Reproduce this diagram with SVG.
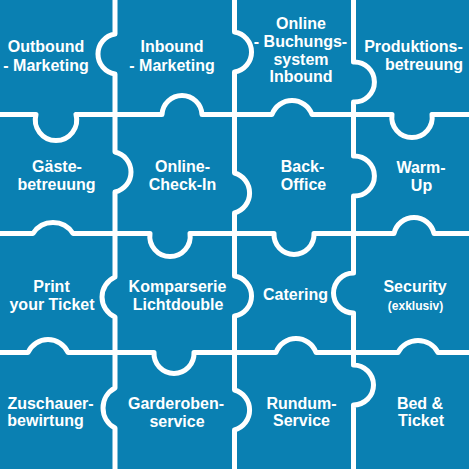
<svg xmlns="http://www.w3.org/2000/svg" width="469" height="469" viewBox="0 0 469 469">
<style>
.bg{fill:#0a80b2}
.cut{fill:none;stroke:#fff;stroke-width:5;stroke-linejoin:round}
text{font-family:"Liberation Sans",Arial,sans-serif;font-weight:bold;font-size:16px;fill:#fff;text-anchor:middle}
.sm{font-size:12px}
</style>
<rect class="bg" x="0" y="0" width="469" height="469"/>
<g id="connectors">
<path class="cut" d="M115 0 V34 A20.26 20.26 0 0 0 115 74 V152 A20.5 20.5 0 0 1 115 192 V277 A21.9 21.9 0 0 0 115 317 V388 A22.7 22.7 0 0 0 115 428 V469"/>
<path class="cut" d="M234.5 0 V32 A20.26 20.26 0 0 1 234.5 72 V173 A20.8 20.8 0 0 1 234.5 213 V276 A20.26 20.26 0 0 1 234.5 316 V390 A20.8 20.8 0 0 1 234.5 430 V469"/>
<path class="cut" d="M353.5 0 V62 A20.02 20.02 0 1 1 353.5 102 V156 A20.02 20.02 0 1 1 353.5 196 V273 A20 20 0 1 0 353.5 313 V365 A20 20 0 1 1 353.5 405 V469"/>
<path class="cut" d="M0 114.5 H36 A20.7 20.7 0 1 0 76 114.5 H162 A20.03 20.03 0 0 1 202 114.5 H272 A21.3 21.3 0 0 1 312 114.5 H392 A20.2 20.2 0 1 0 432 114.5 H469"/>
<path class="cut" d="M0 233.5 H33 A23.7 23.7 0 0 1 73 233.5 H150 A20.2 20.2 0 1 0 190 233.5 H274 A20.02 20.02 0 1 0 314 233.5 H394 A20.5 20.5 0 0 1 434 233.5 H469"/>
<path class="cut" d="M0 352.5 H28 A21.9 21.9 0 0 1 68 352.5 H154 A20.02 20.02 0 1 0 194 352.5 H276 A21.3 21.3 0 0 1 316 352.5 H398 A22.7 22.7 0 0 1 438 352.5 H469"/>
</g>
<g id="outbound"><text x="46" y="52">Outbound</text><text x="46" y="71">- Marketing</text></g>
<g id="inbound"><text x="172" y="52">Inbound</text><text x="172" y="71">- Marketing</text></g>
<g id="buchungssystem"><text x="301" y="29">Online</text><text x="300.5" y="47">- Buchungs-</text><text x="301" y="64.5">system</text><text x="301" y="82">Inbound</text></g>
<g id="produktion"><text x="413.5" y="52">Produktions-</text><text x="424" y="70">betreuung</text></g>
<g id="gaeste"><text x="57" y="172">Gäste-</text><text x="56.5" y="190">betreuung</text></g>
<g id="checkin"><text x="182.5" y="172">Online-</text><text x="182.5" y="190">Check-In</text></g>
<g id="backoffice"><text x="302.5" y="172">Back-</text><text x="303.5" y="190">Office</text></g>
<g id="warmup"><text x="421" y="173">Warm-</text><text x="421.5" y="191">Up</text></g>
<g id="print"><text x="51.5" y="292">Print</text><text x="52" y="310">your Ticket</text></g>
<g id="komparserie"><text x="177.5" y="292">Komparserie</text><text x="178" y="310">Lichtdouble</text></g>
<g id="catering"><text x="295.5" y="300">Catering</text></g>
<g id="security"><text x="415" y="292">Security</text><text class="sm" x="415.5" y="310">(exklusiv)</text></g>
<g id="zuschauer"><text x="50.5" y="409">Zuschauer-</text><text x="45.5" y="426">bewirtung</text></g>
<g id="garderobe"><text x="176" y="409">Garderoben-</text><text x="177" y="426.5">service</text></g>
<g id="rundum"><text x="301.5" y="409">Rundum-</text><text x="301.5" y="426">Service</text></g>
<g id="bed"><text x="420" y="409">Bed &amp;</text><text x="421" y="426">Ticket</text></g>
</svg>
